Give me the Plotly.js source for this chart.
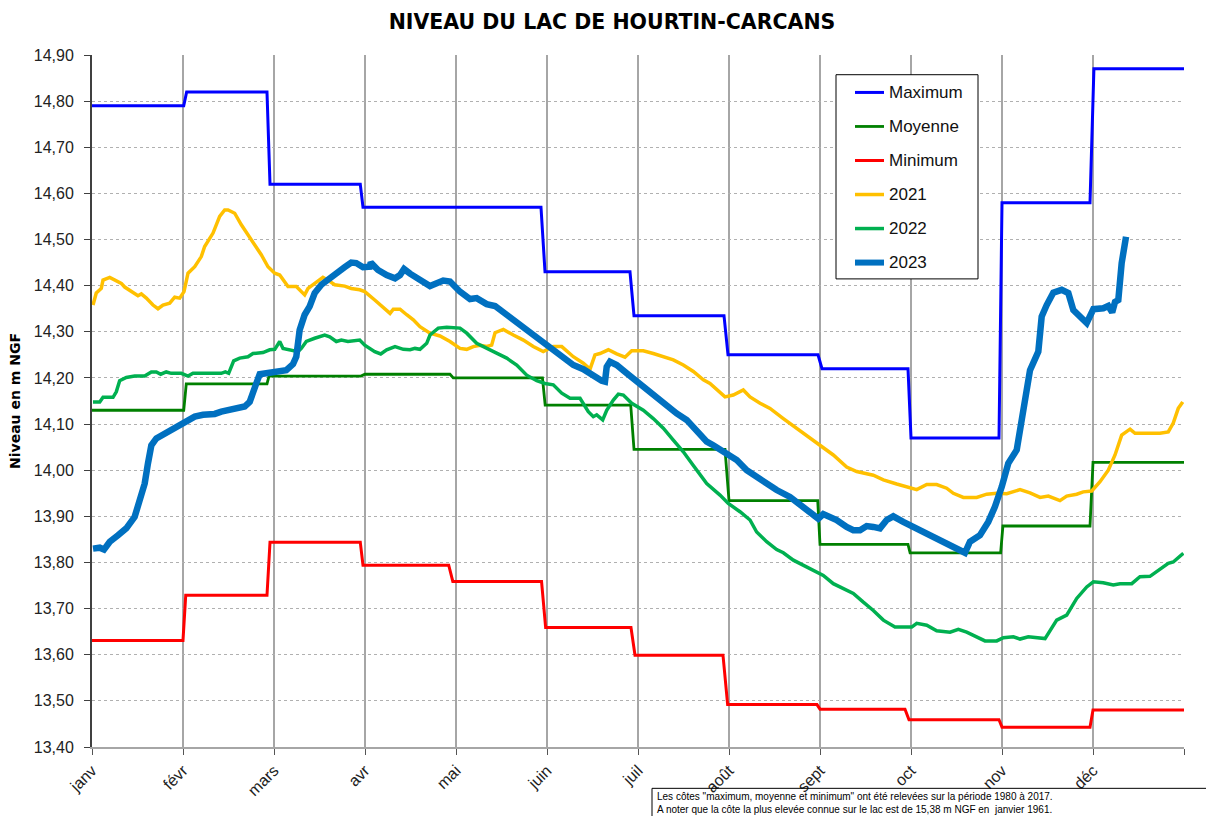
<!DOCTYPE html>
<html>
<head>
<meta charset="utf-8">
<script src="https://cdn.plot.ly/plotly-3.0.1.min.js"></script>
<style>html,body{margin:0;padding:0;background:#fff;}#chart{width:1206px;height:816px;}</style>
</head>
<body>
<div id="chart"></div>
<script>
// Months (equal spacing on the x axis, 0 = janv, 12 = end of déc)
const mois = ['janv','févr','mars','avr','mai','juin','juil','août','sept','oct','nov','déc'];

// Historical statistics 1980-2017 (m NGF), month-position x
const xMaximum = [0,1.008,1.04,1.923,1.956,2.948,2.978,4.934,4.978,5.912,5.956,6.945,6.989,7.978,8.022,8.967,9.0,9.967,10.0,10.967,11.01,12];
const yMaximum = [14.79,14.79,14.82,14.82,14.62,14.62,14.57,14.57,14.43,14.43,14.335,14.335,14.25,14.25,14.22,14.22,14.07,14.07,14.58,14.58,14.87,14.87];

const xMoyenne = [0,1.008,1.036,1.923,1.945,2.956,2.999,3.934,3.97,4.95,4.98,5.92,5.956,6.956,7.0,7.975,8.0,8.967,8.99,9.985,10.01,10.967,11.0,12];
const yMoyenne = [14.13,14.13,14.187,14.187,14.204,14.204,14.208,14.208,14.20,14.20,14.141,14.141,14.045,14.045,13.934,13.934,13.839,13.839,13.821,13.821,13.879,13.879,14.017,14.017];

const xMinimum = [0,1.0,1.03,1.923,1.956,2.948,2.978,3.92,3.965,4.94,4.985,5.923,5.967,6.934,6.985,7.967,8.0,8.934,8.978,9.967,10.0,10.967,11.0,12];
const yMinimum = [13.631,13.631,13.729,13.729,13.844,13.844,13.794,13.794,13.759,13.759,13.659,13.659,13.599,13.599,13.492,13.492,13.482,13.482,13.459,13.459,13.443,13.443,13.480,13.480];

// 2021
const x2021 = [0.011,0.047,0.102,0.121,0.195,0.267,0.322,0.359,0.432,0.505,
0.542,0.597,0.670,0.725,0.780,0.854,0.909,0.964,1.011,1.055,
1.129,1.201,1.238,1.330,1.403,1.458,1.495,1.568,1.641,1.714,
1.788,1.860,1.934,2.008,2.063,2.154,2.245,2.337,2.374,2.447,
2.538,2.593,2.667,2.777,2.849,2.942,2.997,3.107,3.238,3.275,
3.311,3.385,3.458,3.531,3.604,3.714,3.824,3.934,4.044,4.118,
4.190,4.264,4.337,4.392,4.429,4.520,4.630,4.740,4.849,4.959,
5.069,5.162,5.289,5.399,5.473,5.527,5.582,5.674,5.766,5.857,
5.931,6.058,6.168,6.278,6.388,6.498,6.608,6.718,6.791,6.956,
7.047,7.157,7.231,7.341,7.451,7.597,7.744,7.854,8.000,8.146,
8.293,8.403,8.586,8.696,8.843,8.953,9.063,9.173,9.282,9.392,
9.465,9.575,9.722,9.832,9.942,10.052,10.198,10.308,10.418,10.509,
10.637,10.711,10.821,10.893,10.986,11.077,11.168,11.242,11.315,11.407,
11.462,11.590,11.736,11.827,11.882,11.937,11.986];
const y2021 = [14.358,14.384,14.394,14.412,14.418,14.411,14.405,14.397,14.387,14.378,
14.382,14.373,14.358,14.350,14.358,14.362,14.375,14.373,14.387,14.427,
14.441,14.463,14.485,14.514,14.550,14.564,14.564,14.557,14.532,14.510,
14.488,14.467,14.441,14.427,14.423,14.398,14.398,14.380,14.394,14.405,
14.418,14.412,14.402,14.399,14.394,14.391,14.387,14.369,14.347,14.340,
14.349,14.349,14.337,14.326,14.311,14.297,14.291,14.279,14.264,14.262,
14.268,14.271,14.268,14.271,14.298,14.305,14.293,14.282,14.268,14.257,
14.268,14.268,14.246,14.232,14.219,14.250,14.253,14.261,14.252,14.245,
14.259,14.259,14.253,14.246,14.239,14.228,14.214,14.196,14.188,14.159,
14.163,14.174,14.159,14.145,14.134,14.112,14.091,14.076,14.054,14.033,
14.007,13.997,13.989,13.979,13.970,13.964,13.958,13.969,13.969,13.961,
13.950,13.941,13.941,13.948,13.950,13.949,13.958,13.951,13.941,13.944,
13.934,13.944,13.948,13.953,13.955,13.975,14.000,14.033,14.076,14.089,
14.080,14.080,14.080,14.083,14.102,14.134,14.148];

// 2022
const x2022 = [0.011,0.085,0.121,0.231,0.267,0.304,0.377,0.469,0.579,0.652,
0.707,0.755,0.816,0.871,0.981,1.055,1.110,1.238,1.421,1.465,
1.502,1.557,1.623,1.714,1.769,1.879,1.953,2.008,2.063,2.099,
2.173,2.264,2.300,2.355,2.447,2.557,2.612,2.685,2.740,2.813,
2.942,2.997,3.107,3.173,3.238,3.330,3.421,3.495,3.549,3.604,
3.678,3.714,3.805,3.898,4.044,4.118,4.227,4.337,4.447,4.557,
4.667,4.777,4.887,4.978,5.069,5.162,5.253,5.363,5.454,5.509,
5.546,5.612,5.656,5.729,5.784,5.839,5.931,6.058,6.168,6.278,
6.388,6.498,6.608,6.755,6.901,6.992,7.121,7.231,7.304,7.414,
7.524,7.597,7.707,7.817,7.964,8.036,8.146,8.256,8.366,8.476,
8.586,8.696,8.824,9.008,9.063,9.173,9.282,9.429,9.520,9.612,
9.722,9.813,9.942,10.015,10.125,10.198,10.289,10.473,10.601,10.711,
10.821,10.931,11.004,11.113,11.223,11.297,11.426,11.516,11.626,11.736,
11.827,11.882,11.993];
const y2022 = [14.148,14.148,14.158,14.158,14.170,14.194,14.201,14.204,14.204,14.213,
14.213,14.208,14.213,14.210,14.210,14.204,14.210,14.210,14.210,14.213,
14.210,14.237,14.243,14.246,14.253,14.255,14.261,14.262,14.279,14.264,
14.261,14.257,14.264,14.279,14.286,14.293,14.289,14.279,14.282,14.279,
14.282,14.271,14.257,14.252,14.261,14.268,14.262,14.261,14.264,14.262,
14.275,14.293,14.308,14.310,14.308,14.297,14.275,14.264,14.253,14.243,
14.228,14.206,14.194,14.188,14.185,14.167,14.156,14.156,14.127,14.116,
14.120,14.109,14.130,14.152,14.165,14.163,14.145,14.130,14.112,14.091,
14.065,14.040,14.010,13.971,13.946,13.928,13.910,13.892,13.866,13.845,
13.828,13.821,13.805,13.794,13.780,13.772,13.754,13.744,13.733,13.714,
13.696,13.675,13.660,13.660,13.668,13.664,13.652,13.649,13.655,13.649,
13.639,13.630,13.630,13.637,13.639,13.634,13.639,13.635,13.675,13.686,
13.722,13.747,13.758,13.756,13.751,13.754,13.754,13.769,13.770,13.785,
13.798,13.801,13.820];

// 2023
const x2023 = [0.011,0.085,0.132,0.195,0.286,0.377,0.469,0.524,0.579,0.615,
0.652,0.707,0.799,0.871,0.964,1.055,1.129,1.220,1.348,1.421,
1.513,1.586,1.678,1.733,1.769,1.805,1.843,1.934,2.044,2.135,
2.209,2.245,2.282,2.337,2.392,2.447,2.520,2.593,2.685,2.777,
2.849,2.904,2.978,3.052,3.063,3.143,3.238,3.330,3.385,3.429,
3.495,3.604,3.714,3.788,3.860,3.934,4.044,4.154,4.227,4.337,
4.429,4.557,4.703,4.849,4.997,5.143,5.289,5.399,5.509,5.601,
5.637,5.656,5.692,5.766,5.876,5.986,6.095,6.205,6.315,6.425,
6.535,6.645,6.755,6.827,6.974,7.085,7.195,7.341,7.524,7.670,
7.816,7.981,8.036,8.183,8.293,8.366,8.440,8.513,8.586,8.659,
8.733,8.805,8.915,9.025,9.135,9.282,9.429,9.593,9.648,9.758,
9.849,9.923,9.997,10.069,10.162,10.217,10.271,10.308,10.399,10.436,
10.491,10.564,10.656,10.729,10.784,10.839,10.931,11.004,11.113,11.168,
11.211,11.242,11.278,11.315,11.363];
const y2023 = [13.830,13.832,13.828,13.845,13.859,13.874,13.899,13.939,13.971,14.015,
14.054,14.069,14.080,14.087,14.098,14.110,14.116,14.120,14.122,14.127,
14.130,14.134,14.138,14.148,14.174,14.188,14.208,14.211,14.213,14.217,
14.230,14.246,14.304,14.337,14.355,14.384,14.402,14.414,14.427,14.440,
14.450,14.449,14.440,14.441,14.450,14.434,14.423,14.416,14.423,14.436,
14.426,14.412,14.399,14.405,14.411,14.409,14.387,14.371,14.373,14.360,
14.356,14.337,14.315,14.293,14.268,14.250,14.228,14.219,14.204,14.194,
14.192,14.224,14.235,14.228,14.210,14.192,14.178,14.159,14.141,14.123,
14.109,14.083,14.062,14.054,14.036,14.022,14.000,13.979,13.957,13.942,
13.921,13.895,13.905,13.892,13.877,13.870,13.870,13.879,13.877,13.874,
13.892,13.900,13.888,13.877,13.866,13.852,13.838,13.821,13.845,13.859,
13.888,13.921,13.964,14.015,14.044,14.109,14.159,14.217,14.257,14.333,
14.358,14.385,14.391,14.384,14.347,14.337,14.319,14.349,14.351,14.356,
14.342,14.365,14.369,14.449,14.506];

const yTicks = [13.4,13.5,13.6,13.7,13.8,13.9,14.0,14.1,14.2,14.3,14.4,14.5,14.6,14.7,14.8,14.9];

const FONT = 'Arial, "Liberation Sans", sans-serif';
const WIDE = '"DejaVu Sans", Verdana, sans-serif';

const series = [
  {name:'Maximum', x:xMaximum, y:yMaximum, color:'#0000FF', width:3},
  {name:'Moyenne', x:xMoyenne, y:yMoyenne, color:'#008000', width:2.8},
  {name:'Minimum', x:xMinimum, y:yMinimum, color:'#FF0000', width:3},
  {name:'2021', x:x2021, y:y2021, color:'#FFC000', width:3.5},
  {name:'2022', x:x2022, y:y2022, color:'#00B050', width:3.5},
  {name:'2023', x:x2023, y:y2023, color:'#0070C0', width:6.5}
];

const data = series.map(s => ({type:'scatter', mode:'lines', name:s.name, x:s.x, y:s.y,
  line:{color:s.color, width:s.width, shape:'linear'}, hoverinfo:'skip', showlegend:false}));

// pixel -> paper helpers for decorations (plot area 92..1184 x 55.3..746.7)
const PX = p => (p-92)/1092;
const PY = p => (746.7-p)/691.4;

const shapes = [
  // footnote box
  {type:'rect', xref:'paper', yref:'paper', x0:PX(652), x1:1.2, y0:-0.2, y1:PY(788),
    line:{color:'#000', width:1}, fillcolor:'rgba(0,0,0,0)', layer:'above'},
  // legend box
  {type:'rect', xref:'paper', yref:'paper', x0:PX(836), x1:PX(978), y0:PY(279), y1:PY(75),
    line:{color:'#000', width:1}, fillcolor:'#fff', layer:'above'}
];
const annotations = [
  {xref:'paper', yref:'paper', x:PX(655), y:PY(789),
    xanchor:'left', yanchor:'top', align:'left', showarrow:false,
    text:'Les côtes "maximum, moyenne et minimum" ont été relevées sur la période 1980 à 2017.<br>A noter que la côte la plus elevée connue sur le lac est de 15,38 m NGF en  janvier 1961.',
    font:{family:FONT, size:10, color:'#000'}}
];
series.forEach((s,i) => {
  const yy = 92.7 + 34*i;
  shapes.push({type:'line', xref:'paper', yref:'paper', x0:PX(855), x1:PX(884), y0:PY(yy), y1:PY(yy),
    line:{color:s.color, width:Math.min(s.width,6)}, layer:'above'});
  annotations.push({xref:'paper', yref:'paper', x:PX(887), y:PY(yy), xanchor:'left', yanchor:'middle',
    showarrow:false, text:s.name, font:{family:FONT, size:17, color:'#111'}});
});

const tickX = mois.map((m,i)=>i).concat([12]);
const tickT = mois.concat(['']);

const layout = {
  width:1206, height:816,
  margin:{l:92, r:22, t:55, b:69, pad:0},
  paper_bgcolor:'#fff', plot_bgcolor:'#fff',
  separators:', ',
  font:{family:FONT, color:'#222'},
  title:{text:'NIVEAU DU LAC DE HOURTIN-CARCANS', x:612/1206, xanchor:'center', xref:'container',
    y:1-22/816, yanchor:'middle', yref:'container',
    font:{family:WIDE, size:20.5, color:'#000', weight:'bold'}},
  showlegend:false,
  xaxis:{range:[0,12], tickmode:'array', tickvals:tickX, ticktext:tickT,
    tickangle:-45, tickfont:{family:FONT, size:16, color:'#222'},
    ticks:'outside', ticklen:6, tickcolor:'#555', tickwidth:1,
    showgrid:true, gridcolor:'#a6a6a6', gridwidth:1.5,
    showline:true, linecolor:'#a6a6a6', linewidth:2,
    zeroline:false, fixedrange:true},
  yaxis:{range:[13.4,14.9], tickmode:'array', tickvals:yTicks, tickformat:'.2f',
    tickfont:{family:FONT, size:16, color:'#222'}, ticklabelstandoff:7,
    ticks:'outside', ticklen:6, tickcolor:'#404040', tickwidth:1,
    showgrid:true, gridcolor:'#b0b0b0', gridwidth:1, griddash:'dot',
    showline:true, linecolor:'#404040', linewidth:2,
    zeroline:false, fixedrange:true,
    title:{text:'Niveau en m NGF', font:{family:WIDE, size:14, color:'#000', weight:'bold'}, standoff:10}},
  shapes:shapes,
  annotations:annotations
};

Plotly.newPlot('chart', data, layout, {staticPlot:true, displayModeBar:false});
</script>
</body>
</html>
